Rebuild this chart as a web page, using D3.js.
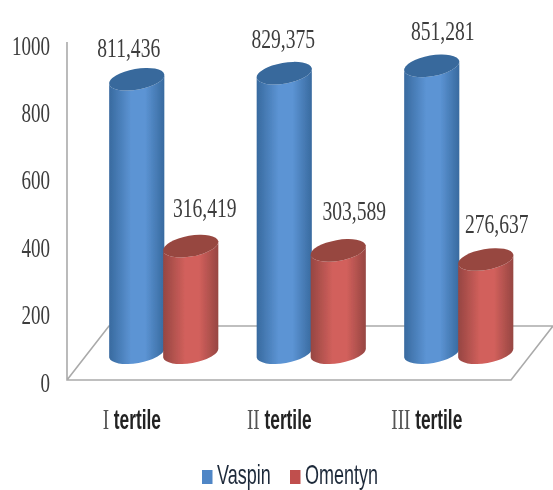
<!DOCTYPE html>
<html>
<head>
<meta charset="utf-8">
<script src="https://cdn.jsdelivr.net/npm/d3@7"></script>
<style>
    html, body { margin: 0; padding: 0; background: #fff; }
    svg { display: block; }
    .num { font-family: "Liberation Serif", serif; font-size: 28px; fill: #3c3c3c; }
    .cat { font-size: 30px; fill: #222; }
    .cat .roman { font-family: "Liberation Serif", serif; fill: #555; }
    .cat .word { font-family: "Liberation Sans", sans-serif; font-weight: bold; font-size: 27px; }
    .legend-label { font-family: "Liberation Sans", sans-serif; font-size: 27px; fill: #1f2a3a; }
</style>
</head>
<body>
<div id="chart"></div>
<script>
const tertiles = ["I tertile", "II tertile", "III tertile"];
const seriesNames = ["Vaspin", "Omentyn"];
const vaspin = [811.436, 829.375, 851.281];
const omentyn = [316.419, 303.589, 276.637];
const valueLabels = {
    Vaspin: ["811,436", "829,375", "851,281"],
    Omentyn: ["316,419", "303,589", "276,637"]
};
const yTicks = [0, 200, 400, 600, 800, 1000];

const width = 553, height = 490;
const seriesColors = {
    Vaspin: { edge: "#386a9f", mid: "#5c94d4", top: "#37699c" },
    Omentyn: { edge: "#964642", mid: "#d2605c", top: "#97463f" }
};
// hand placed data labels in the original, offset from the top of each cylinder
const labelNudge = {
    Vaspin: [[-8, -22], [-1, -25], [11, -26]],
    Omentyn: [[14, -29], [16, -30], [11, -26]]
};

const svg = d3.select("#chart").append("svg")
    .attr("width", width)
    .attr("height", height);

// the picture is a soft, scaled up screenshot
const defs = svg.append("defs");
defs.append("filter").attr("id", "soft")
    .append("feGaussianBlur").attr("stdDeviation", 0.7);

seriesNames.forEach(name => {
    const grad = defs.append("linearGradient").attr("id", `side-${name}`);
    grad.append("stop").attr("offset", "0%").attr("stop-color", seriesColors[name].edge);
    grad.append("stop").attr("offset", "40%").attr("stop-color", seriesColors[name].mid);
    grad.append("stop").attr("offset", "65%").attr("stop-color", seriesColors[name].mid);
    grad.append("stop").attr("offset", "100%").attr("stop-color", seriesColors[name].edge);
});

const root = svg.append("g").attr("filter", "url(#soft)");

// Scales
const yScale = d3.scaleLinear().domain([0, 1000]).range([382, 45]);
const xScale = d3.scaleBand().domain(tertiles).range([90, 532.5]);
const seriesScale = d3.scaleBand().domain(seriesNames).range([-54, 54]);

// Floor and wall of the 3D box
const floor = { left: 67, right: 511, depthX: 42, front: 380, back: 326, top: 42 };
root.append("path")
    .attr("d", `M${floor.left},${floor.top}V${floor.front}H${floor.right}` +
        `L${floor.right + floor.depthX},${floor.back}H${floor.left + floor.depthX}L${floor.left},${floor.front}`)
    .attr("fill", "none")
    .attr("stroke", "#aaa")
    .attr("stroke-width", 1.6);

// Y axis, labels only
const yAxis = root.append("g")
    .attr("transform", "translate(50,0)")
    .call(d3.axisLeft(yScale).tickValues(yTicks).tickSize(0).tickFormat(d3.format("d")));
yAxis.select(".domain").remove();
yAxis.selectAll("text")
    .attr("class", "num")
    .attr("x", null)
    .attr("dy", null)
    .attr("transform", "translate(0,9) scale(0.68,1)")
    .style("text-anchor", "end");
yAxis.attr("font-family", null).attr("font-size", null);

// Cylinder geometry
const rx = 28, ry = 10.4, tilt = -10;
const baseY = 352.7;
const valueScale = d3.scaleLinear().domain([0, 1000]).range([baseY, baseY - (yScale(0) - yScale(1000))]);
const tiltRad = tilt * Math.PI / 180;
const endX = rx * Math.cos(tiltRad), endY = rx * Math.sin(tiltRad);

function bodyPath(cx, cy) {
    return `M${cx - endX},${cy - endY}` +
        `L${cx - endX},${baseY - endY}` +
        `A${rx},${ry} ${tilt} 0 0 ${cx + endX},${baseY + endY}` +
        `L${cx + endX},${cy + endY}` +
        `A${rx},${ry} ${tilt} 0 1 ${cx - endX},${cy - endY}Z`;
}

const barData = [];
tertiles.forEach((t, i) => {
    barData.push({ tertile: t, index: i, series: "Vaspin", value: vaspin[i], label: valueLabels.Vaspin[i] });
    barData.push({ tertile: t, index: i, series: "Omentyn", value: omentyn[i], label: valueLabels.Omentyn[i] });
});
const barX = d => xScale(d.tertile) + xScale.bandwidth() / 2 + seriesScale(d.series) + seriesScale.bandwidth() / 2;

const bars = root.selectAll(".bar")
    .data(barData)
    .enter().append("g")
    .attr("class", "bar");

bars.append("path")
    .attr("d", d => bodyPath(barX(d), valueScale(d.value)))
    .attr("fill", d => `url(#side-${d.series})`);

bars.append("ellipse")
    .attr("rx", rx)
    .attr("ry", ry)
    .attr("transform", d => `translate(${barX(d)},${valueScale(d.value)}) rotate(${tilt})`)
    .attr("fill", d => seriesColors[d.series].top);

// Value labels sit above the cylinders
root.selectAll(".value-label")
    .data(barData)
    .enter().append("text")
    .attr("class", "num value-label")
    .attr("text-anchor", "middle")
    .attr("transform", d => {
        const [dx, dy] = labelNudge[d.series][d.index];
        return `translate(${barX(d) + dx},${valueScale(d.value) + dy}) scale(0.7,1)`;
    })
    .text(d => d.label);

// Category labels: roman part is serif, the word is a narrow bold sans
const catLabels = root.selectAll(".cat")
    .data(tertiles)
    .enter().append("text")
    .attr("class", "cat")
    .attr("text-anchor", "middle")
    .attr("transform", d => `translate(${xScale(d) + xScale.bandwidth() / 2 - 32},429) scale(0.64,1)`);
catLabels.append("tspan").attr("class", "roman").text(d => d.split(" ")[0] + " ");
catLabels.append("tspan").attr("class", "word").text(d => d.split(" ")[1]);

// Legend
const legendX = d3.scaleOrdinal().domain(seriesNames).range([202, 290]);
const legend = root.selectAll(".legend")
    .data(seriesNames)
    .enter().append("g")
    .attr("class", "legend")
    .attr("transform", d => `translate(${legendX(d)},470)`);
legend.append("rect")
    .attr("width", 10.5)
    .attr("height", 14)
    .attr("fill", d => d === "Vaspin" ? "#4f86c6" : "#c0504d");
legend.append("text")
    .attr("class", "legend-label")
    .attr("transform", "translate(15,14) scale(0.667,1)")
    .text(d => d);
</script>
</body>
</html>
